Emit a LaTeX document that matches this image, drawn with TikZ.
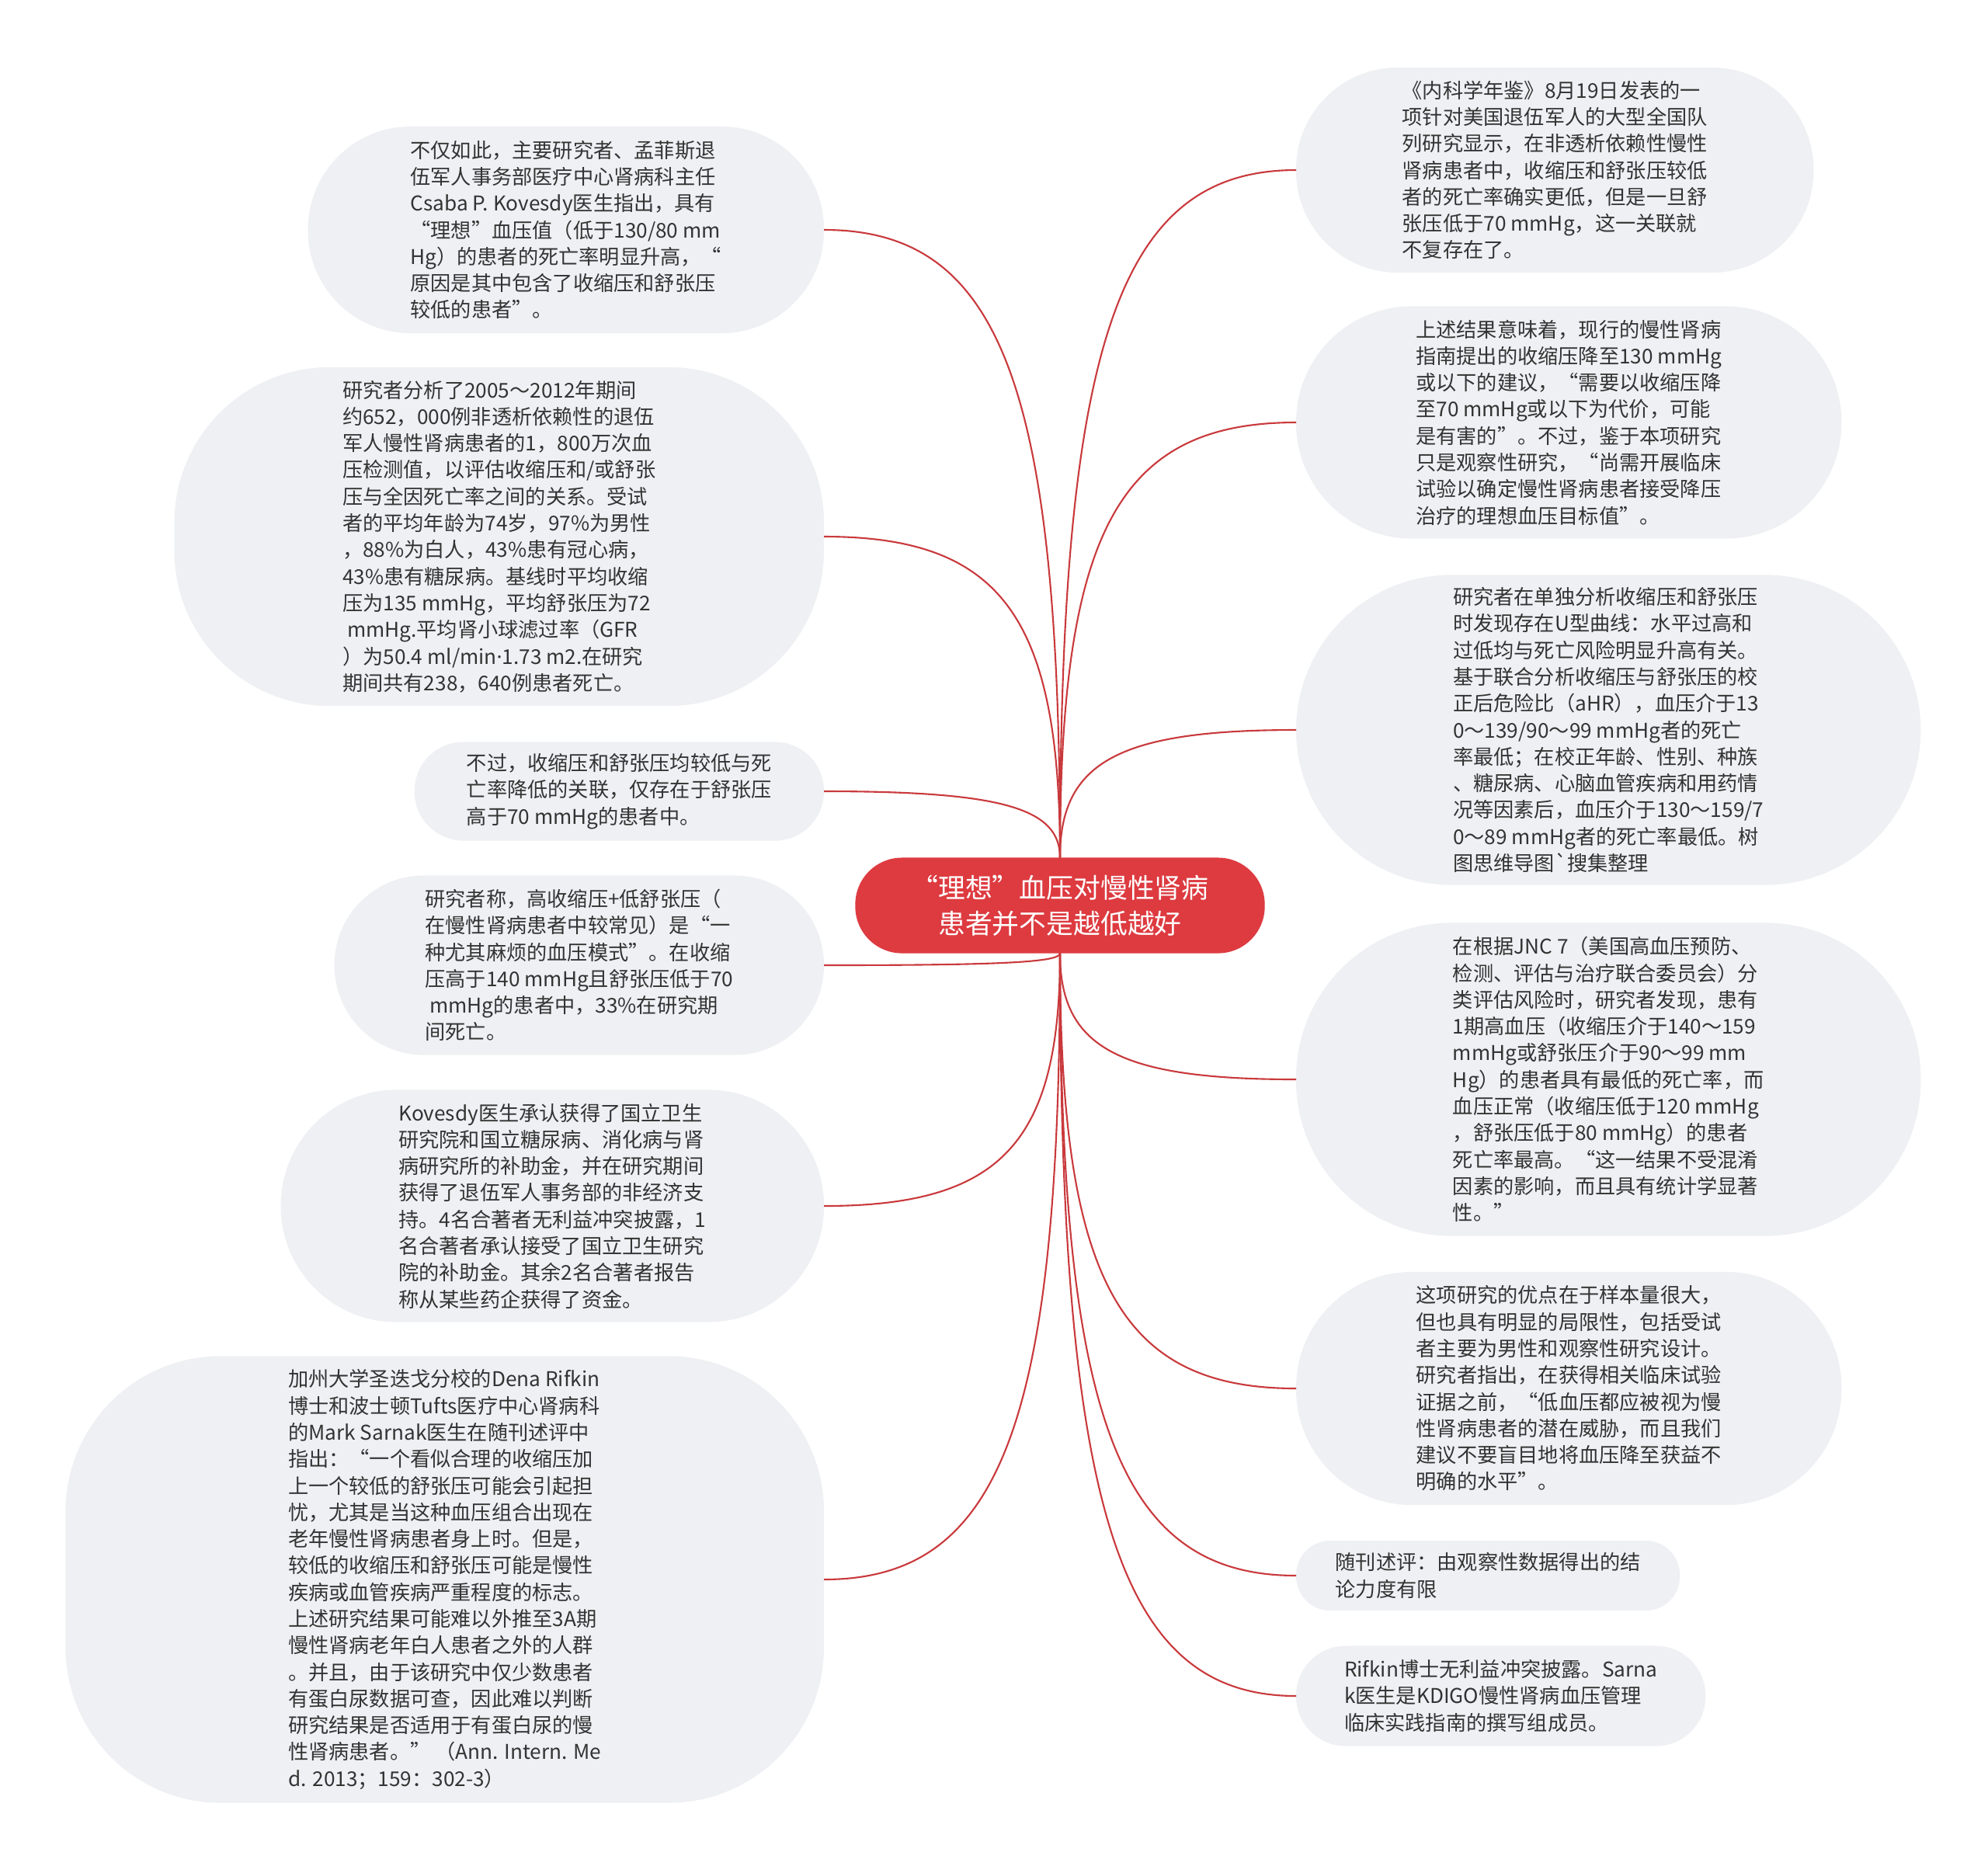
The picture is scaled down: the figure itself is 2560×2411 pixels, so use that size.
\documentclass[tikz,border=0pt]{standalone}
\usepackage{fontspec}
\setmainfont{Noto Sans CJK SC}
\newfontfamily\plaincjk{Noto Sans CJK SC}
\newfontfamily\latinfont{Noto Sans}
\usepackage{tikz}
\usetikzlibrary{calc}
\definecolor{topicred}{HTML}{DD3B40}
\definecolor{linkred}{HTML}{C9393C}
\definecolor{leafgray}{HTML}{EEF0F3}
\definecolor{inkgray}{HTML}{333333}

\begin{document}
\begin{tikzpicture}[x=0.01cm, y=-0.01cm,
  leaf/.style={fill=leafgray, rounded corners=#1, inner sep=0pt, outer sep=0pt,
    align=left, text=inkgray, font=\fontsize{7.45}{9.75}\selectfont},
  topic/.style={fill=topicred, rounded corners=0.6cm, inner sep=0pt, outer sep=0pt,
    align=center, text=white, font=\fontsize{9.9}{13}\selectfont},
  link/.style={draw=linkred, line width=0.6pt},
  branch/.style={to path={.. controls ($(\tikztostart)!0.75!(\tikztostart |- \tikztotarget)$)
    and ($(\tikztotarget)!0.75!(\tikztostart |- \tikztotarget)$) .. (\tikztotarget)}}]
  \fill[white] (0,0) rectangle (2560,2411);
  % centre topic
  \node[topic, minimum width=5.27cm, minimum height=1.23cm] (main) at (1365,1166)
    {“理想”血压对慢性肾病\\患者并不是越低越好};
  % left side
  \node[leaf=1.32cm, minimum width=6.64cm, minimum height=2.66cm, anchor=east] (l1) at (1061,296)
    {不仅如此，主要研究者、孟菲斯退\\
     伍军人事务部医疗中心肾病科主任\\
     Csaba P. Kovesdy医生指出，具有\\
     “理想”血压值（低于130/80 mm\\
     Hg）的患者的死亡率明显升高，“\\
     原因是其中包含了收缩压和舒张压\\
     较低的患者”。};
  \node[leaf=2cm, minimum width=8.36cm, minimum height=4.36cm, anchor=east] (l2) at (1061,691)
    {研究者分析了2005～2012年期间\\
     约652，000例非透析依赖性的退伍\\
     军人慢性肾病患者的1，800万次血\\
     压检测值，以评估收缩压和/或舒张\\
     压与全因死亡率之间的关系。受试\\
     者的平均年龄为74岁，97\%为男性\\
     ，88\%为白人，43\%患有冠心病，\\
     43\%患有糖尿病。基线时平均收缩\\
     压为135 mmHg，平均舒张压为72\\
     \mbox{} mmHg.平均肾小球滤过率（GFR\\
     ）为50.4 ml/min{\latinfont ·}1.73 m2.在研究\\
     期间共有238，640例患者死亡。};
  \node[leaf=0.63cm, minimum width=5.27cm, minimum height=1.27cm, anchor=east] (l3) at (1061,1019)
    {不过，收缩压和舒张压均较低与死\\
     亡率降低的关联，仅存在于舒张压\\
     高于70 mmHg的患者中。};
  \node[leaf=1.15cm, minimum width=6.30cm, minimum height=2.31cm, anchor=east] (l4) at (1061,1243)
    {研究者称，高收缩压+低舒张压（\\
     在慢性肾病患者中较常见）是“一\\
     种尤其麻烦的血压模式”。在收缩\\
     压高于140 mmHg且舒张压低于70\\
     \mbox{} mmHg的患者中，33\%在研究期\\
     间死亡。};
  \node[leaf=1.49cm, minimum width=6.99cm, minimum height=2.99cm, anchor=east] (l5) at (1061,1553)
    {Kovesdy医生承认获得了国立卫生\\
     研究院和国立糖尿病、消化病与肾\\
     病研究所的补助金，并在研究期间\\
     获得了退伍军人事务部的非经济支\\
     持。4名合著者无利益冲突披露，1\\
     名合著者承认接受了国立卫生研究\\
     院的补助金。其余2名合著者报告\\
     称从某些药企获得了资金。};
  \node[leaf=2cm, minimum width=9.76cm, minimum height=5.75cm, anchor=east] (l6) at (1061,2034)
    {加州大学圣迭戈分校的Dena Rifkin\\
     博士和波士顿Tufts医疗中心肾病科\\
     的Mark Sarnak医生在随刊述评中\\
     指出：“一个看似合理的收缩压加\\
     上一个较低的舒张压可能会引起担\\
     忧，尤其是当这种血压组合出现在\\
     老年慢性肾病患者身上时。但是，\\
     较低的收缩压和舒张压可能是慢性\\
     疾病或血管疾病严重程度的标志。\\
     上述研究结果可能难以外推至3A期\\
     慢性肾病老年白人患者之外的人群\\
     。并且，由于该研究中仅少数患者\\
     有蛋白尿数据可查，因此难以判断\\
     研究结果是否适用于有蛋白尿的慢\\
     性肾病患者。” （Ann. Intern. Me\\
     d. 2013；159：302-3）};
  % right side
  \node[leaf=1.31cm, minimum width=6.66cm, minimum height=2.64cm, anchor=west] (r1) at (1669,219)
    {《内科学年鉴》8月19日发表的一\\
     项针对美国退伍军人的大型全国队\\
     列研究显示，在非透析依赖性慢性\\
     肾病患者中，收缩压和舒张压较低\\
     者的死亡率确实更低，但是一旦舒\\
     张压低于70 mmHg，这一关联就\\
     不复存在了。};
  \node[leaf=1.49cm, minimum width=7.02cm, minimum height=2.99cm, anchor=west] (r2) at (1669,544)
    {上述结果意味着，现行的慢性肾病\\
     指南提出的收缩压降至130 mmHg\\
     或以下的建议，“需要以收缩压降\\
     至70 mmHg或以下为代价，可能\\
     是有害的”。不过，鉴于本项研究\\
     只是观察性研究，“尚需开展临床\\
     试验以确定慢性肾病患者接受降压\\
     治疗的理想血压目标值”。};
  \node[leaf=2cm, minimum width=8.04cm, minimum height=3.99cm, anchor=west] (r3) at (1669,940)
    {研究者在单独分析收缩压和舒张压\\
     时发现存在U型曲线：水平过高和\\
     过低均与死亡风险明显升高有关。\\
     基于联合分析收缩压与舒张压的校\\
     正后危险比（aHR），血压介于13\\
     0～139/90～99 mmHg者的死亡\\
     率最低；在校正年龄、性别、种族\\
     、糖尿病、心脑血管疾病和用药情\\
     况等因素后，血压介于130～159/7\\
     0～89 mmHg者的死亡率最低。树\\
     图思维导图{\plaincjk\symbol{96}}搜集整理};
  \node[leaf=2cm, minimum width=8.04cm, minimum height=4.03cm, anchor=west] (r4) at (1669,1390)
    {在根据JNC 7（美国高血压预防、\\
     检测、评估与治疗联合委员会）分\\
     类评估风险时，研究者发现，患有\\
     1期高血压（收缩压介于140～159\\
     mmHg或舒张压介于90～99 mm\\
     Hg）的患者具有最低的死亡率，而\\
     血压正常（收缩压低于120 mmHg\\
     ，舒张压低于80 mmHg）的患者\\
     死亡率最高。“这一结果不受混淆\\
     因素的影响，而且具有统计学显著\\
     性。”};
  \node[leaf=1.49cm, minimum width=7.02cm, minimum height=3.00cm, anchor=west] (r5) at (1669,1788)
    {这项研究的优点在于样本量很大，\\
     但也具有明显的局限性，包括受试\\
     者主要为男性和观察性研究设计。\\
     研究者指出，在获得相关临床试验\\
     证据之前，“低血压都应被视为慢\\
     性肾病患者的潜在威胁，而且我们\\
     建议不要盲目地将血压降至获益不\\
     明确的水平”。};
  \node[leaf=0.44cm, minimum width=4.94cm, minimum height=0.90cm, anchor=west] (r6) at (1669,2029)
    {随刊述评：由观察性数据得出的结\\
     论力度有限};
  \node[leaf=0.64cm, minimum width=5.27cm, minimum height=1.29cm, anchor=west] (r7) at (1669,2184)
    {Rifkin博士无利益冲突披露。Sarna\\
     k医生是KDIGO慢性肾病血压管理\\
     临床实践指南的撰写组成员。};
  % branches
  \foreach \n in {l1,l2,l3}
    \draw[link] (main.north) to[branch] (\n.east);
  \foreach \n in {r1,r2,r3}
    \draw[link] (main.north) to[branch] (\n.west);
  \foreach \n in {l4,l5,l6}
    \draw[link] (main.south) to[branch] (\n.east);
  \foreach \n in {r4,r5,r6,r7}
    \draw[link] (main.south) to[branch] (\n.west);
\end{tikzpicture}
\end{document}
